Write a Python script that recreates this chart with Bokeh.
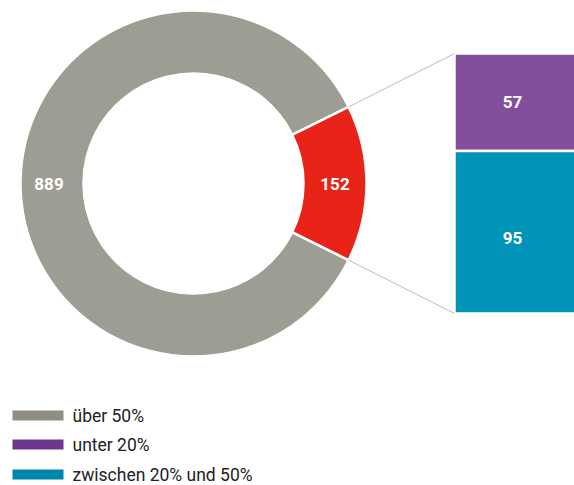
import math
from bokeh.plotting import figure
from bokeh.models import Range1d
from bokeh.core.properties import value
from bokeh.embed import file_html
from bokeh.resources import INLINE

# ---- data ----
donut_labels = ["über 50%", "unter 50%"]
donut_values = [889, 152]
donut_colors = ["#9e9d93", "#e82418"]

bar_labels = ["unter 20%", "zwischen 20% und 50%"]
bar_values = [57, 95]
bar_colors = ["#834e9c", "#0094b8"]

legend_labels = ["über 50%", "unter 20%", "zwischen 20% und 50%"]
legend_colors = ["#918e81", "#6f368d", "#0086ad"]

# ---- layout (page pixel coords, y measured down from top) ----
W, H = 574, 485
PAGE_H = 485


def Y(yp):
    return PAGE_H - yp


p = figure(width=W, height=H, output_backend="svg", toolbar_location=None,
           x_range=Range1d(0, W), y_range=Range1d(0, H),
           min_border=0)
p.axis.visible = False
p.grid.visible = False
p.outline_line_color = None
p.background_fill_color = "white"

cx, cy = 193, Y(183)
r_in, r_out = 110, 173
total = sum(donut_values)
red_ang = 2 * math.pi * donut_values[1] / total
half = red_ang / 2

FONT = "Roboto"

# donut: gray big slice, red slice centered on the right
p.annular_wedge(x=[cx, cx], y=[cy, cy], inner_radius=r_in, outer_radius=r_out,
                start_angle=[half, -half], end_angle=[2 * math.pi - half, half],
                fill_color=donut_colors, line_color="white", line_width=2.5)

r_mid = (r_in + r_out) / 2
p.text(x=[cx - r_mid - 3, cx + r_mid], y=[cy, cy], text=[str(v) for v in donut_values],
       text_color="white", text_font=value(FONT), text_font_size="17px",
       text_font_style="bold", text_align="center", text_baseline="middle")

# bars (run off the right edge, as in the reference)
bar_top, bar_bot = Y(53), Y(313)
bx0, bx1 = 454, 590
label_x = 512
btot = sum(bar_values)
scale = (bar_top - bar_bot) / btot
tops, bots = [], []
cur = bar_top
for v in bar_values:
    tops.append(cur)
    cur -= v * scale
    bots.append(cur)
p.quad(left=[bx0] * 2, right=[bx1] * 2, top=tops, bottom=bots,
       fill_color=bar_colors, line_color="white", line_width=2.5)
p.text(x=[label_x] * 2, y=[(t + b) / 2 for t, b in zip(tops, bots)],
       text=[str(v) for v in bar_values], text_color="white",
       text_font=value(FONT), text_font_size="17px", text_font_style="bold",
       text_align="center", text_baseline="middle", y_offset=[0, 6])

# connector lines
ex = cx + r_out * math.cos(half)
ey_top = cy + r_out * math.sin(half)
ey_bot = cy - r_out * math.sin(half)
p.segment(x0=[ex, ex], y0=[ey_top, ey_bot], x1=[bx0, bx0], y1=[bar_top, bar_bot],
          line_color="#bdbdbd", line_width=1)

# legend
leg_y = [Y(415), Y(444), Y(474)]
p.quad(left=[12] * 3, right=[63] * 3, top=[y + 5 for y in leg_y],
       bottom=[y - 5 for y in leg_y], fill_color=legend_colors, line_color=None)
p.text(x=[72] * 3, y=leg_y, text=legend_labels, text_color="#222222",
       text_font=value(FONT), text_font_size="17.5px", text_align="left",
       text_baseline="middle")

open("out.html", "w").write(file_html(p, INLINE))
